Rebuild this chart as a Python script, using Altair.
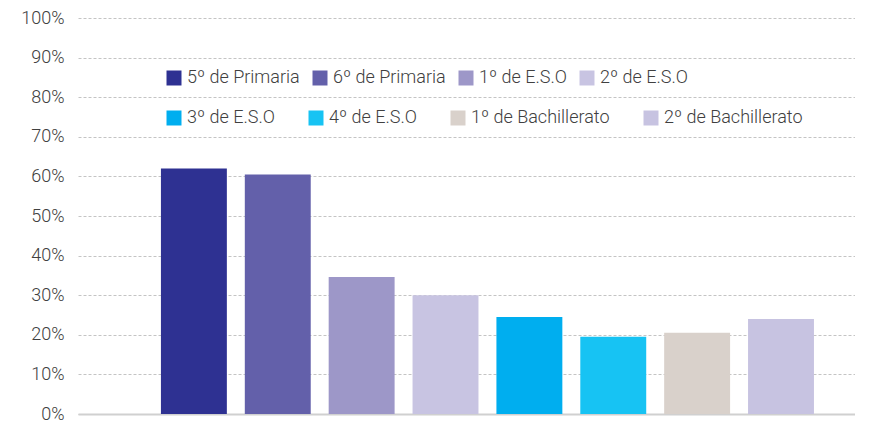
import altair as alt
import pandas as pd

categories = ["5º de Primaria", "6º de Primaria", "1º de E.S.O", "2º de E.S.O",
              "3º de E.S.O", "4º de E.S.O", "1º de Bachillerato", "2º de Bachillerato"]
values = [0.62, 0.605, 0.346, 0.30, 0.245, 0.195, 0.205, 0.24]
colors = ["#2E3192", "#6360AA", "#9D97C8", "#C8C4E2",
          "#00AEEF", "#17C3F3", "#D9D1CB", "#C7C3E1"]
legend_row = [1, 1, 1, 1, 2, 2, 2, 2]

df = pd.DataFrame({"cat": categories, "val": values, "row": legend_row})

FONT = "Roboto"
x_enc = alt.X("cat:N", sort=categories,
              scale=alt.Scale(domain=categories, paddingInner=0.214, paddingOuter=0.739, align=0.669),
              axis=alt.Axis(labels=False, ticks=False, title=None, domain=True,
                            domainColor="#d0d0d0", domainWidth=2, grid=False))
y_enc = alt.Y("val:Q", scale=alt.Scale(domain=[0, 1], nice=False),
              axis=alt.Axis(values=[i / 10 for i in range(11)], format=".0%", title=None,
                            ticks=False, domain=False, labelFontSize=18, labelColor="#404040",
                            labelFont=FONT, labelFontWeight=300, labelPadding=14,
                            grid=True, gridColor="#c4c4c4", gridDash=[3, 2], gridWidth=1))


def layer(row, lx, ly, colpad):
    sub = [c for c, r in zip(categories, legend_row) if r == row]
    subcol = [c for c, r, in zip(colors, legend_row) if r == row]
    return alt.Chart(df).transform_filter(alt.datum.row == row).mark_bar().encode(
        x=x_enc,
        y=y_enc,
        color=alt.Color("cat:N", scale=alt.Scale(domain=sub, range=subcol),
                        legend=alt.Legend(orient="none", legendX=lx, legendY=ly, title=None,
                                          columns=4, gridAlign="none", columnPadding=colpad,
                                          symbolType="square", symbolSize=225, symbolStrokeWidth=0,
                                          symbolOpacity=1, labelFontSize=18, labelFont=FONT,
                                          labelColor="#404040", labelOffset=4,
                                          labelFontWeight=300)),
    )


chart = alt.layer(
    layer(1, 87, 51, 11),
    layer(2, 87, 91, 32),
).resolve_scale(color="independent").resolve_legend(color="independent").properties(
    width=777, height=396,
    autosize=alt.AutoSizeParams(type="none"),
    padding={"left": 70, "top": 10, "right": 0, "bottom": 12},
).configure_view(stroke=None)

chart.save("out.html", embed_options={"renderer": "svg", "actions": False})
